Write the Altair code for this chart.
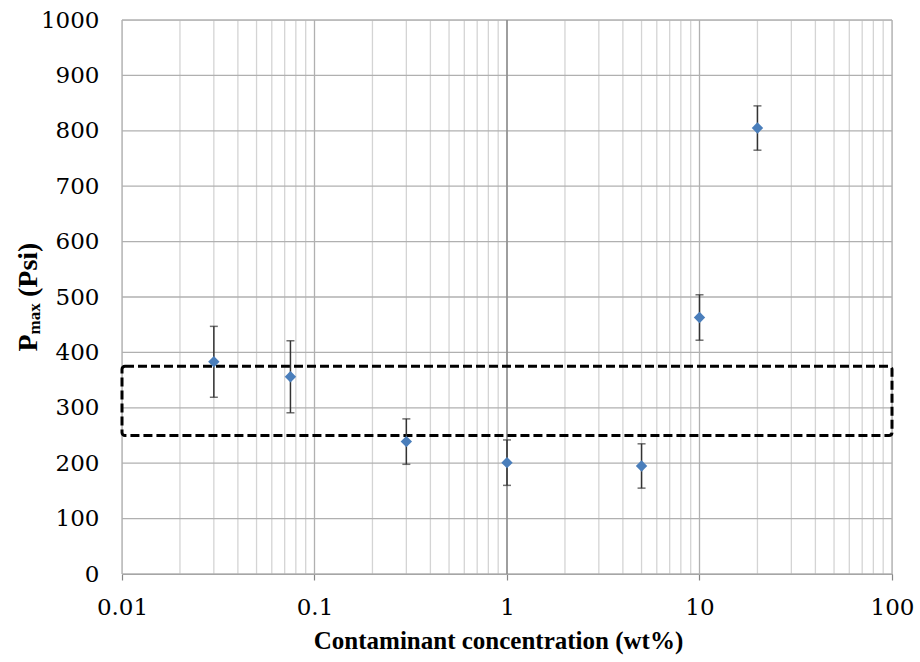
import altair as alt
import pandas as pd

# --- data ---
conc = [0.03, 0.075, 0.3, 1, 5, 10, 20]
pmax = [383, 356, 239, 201, 195, 463, 805]
err = [64, 65, 41, 41, 40, 41, 40]

box_x = [0.01, 100]
box_y = [250, 375]

major_x = [0.01, 0.1, 1, 10, 100]
minor_x = [m * d for d in [0.01, 0.1, 1, 10] for m in range(2, 10)]
y_ticks = list(range(0, 1001, 100))

SERIF = "Liberation Serif"
LABEL_FONT = "DejaVu Serif"

df = pd.DataFrame({
    "conc": conc,
    "pmax": pmax,
    "lo": [p - e for p, e in zip(pmax, err)],
    "hi": [p + e for p, e in zip(pmax, err)],
})
box = pd.DataFrame({"x0": [box_x[0]], "x1": [box_x[1]], "y0": [box_y[0]], "y1": [box_y[1]]})

xscale = alt.Scale(type="log", domain=[0.01, 100], nice=False)
yscale = alt.Scale(domain=[0, 1000], nice=False)

x_axis = alt.Axis(
    values=major_x, format="~g", grid=False,
    domainColor="#868686", domainWidth=1.2,
    tickColor="#868686", tickSize=6, tickWidth=1.2,
    labelFont=LABEL_FONT, labelFontSize=23,
    labelColor="black", labelPadding=16, labelFlush=False,
    title="Contaminant concentration (wt%)",
    titleFont=SERIF, titleFontSize=25, titleFontWeight="bold", titleColor="black",
    titleBaseline="alphabetic", titleY=74, titleX=376,
)
y_axis = alt.Axis(
    values=y_ticks, format="d", grid=False, domain=False, ticks=False, tickSize=0,
    labelFont=LABEL_FONT, labelFontSize=23,
    labelColor="black", labelPadding=23,
    title=None,
)

minor = alt.Chart(pd.DataFrame({"gx": minor_x})).mark_rule(
    color="#d4d4d4", strokeWidth=1.3
).encode(x=alt.X("gx:Q", scale=xscale, axis=x_axis))

major = alt.Chart(pd.DataFrame({"gx": major_x})).mark_rule(
    color="#b0b0b0", strokeWidth=1.3
).encode(x=alt.X("gx:Q", scale=xscale, axis=x_axis))

hgrid = alt.Chart(pd.DataFrame({"gy": y_ticks})).mark_rule(
    color="#b0b0b0", strokeWidth=1.3
).encode(y=alt.Y("gy:Q", scale=yscale, axis=y_axis))

one_line = alt.Chart(pd.DataFrame({"gx": [1]})).mark_rule(
    color="#868686", strokeWidth=1.3
).encode(x=alt.X("gx:Q", scale=xscale, axis=x_axis))

rect = alt.Chart(box).mark_rect(
    fillOpacity=0, stroke="black", strokeWidth=3, strokeDash=[9, 4], cornerRadius=3
).encode(
    x=alt.X("x0:Q", scale=xscale, axis=x_axis), x2="x1:Q",
    y=alt.Y("y0:Q", scale=yscale, axis=y_axis), y2="y1:Q",
)

bars = alt.Chart(df).mark_errorbar(
    ticks={"size": 8, "color": "#333333", "thickness": 1.5},
    rule={"color": "#333333", "strokeWidth": 1.5},
).encode(
    x=alt.X("conc:Q", scale=xscale, axis=x_axis),
    y=alt.Y("lo:Q", scale=yscale, axis=y_axis),
    y2="hi:Q",
)

points = alt.Chart(df).mark_point(
    shape="diamond", filled=True, size=130, color="#4a7ebb", opacity=1
).encode(
    x=alt.X("conc:Q", scale=xscale, axis=x_axis),
    y=alt.Y("pmax:Q", scale=yscale, axis=y_axis),
)

# y-axis title with subscript, drawn as text pieces
title_base = alt.Chart(pd.DataFrame({"a": [0]}))
tP = title_base.mark_text(
    text="P", angle=270, align="left", baseline="alphabetic",
    font=SERIF, fontSize=28, fontWeight="bold", color="black"
).encode(x=alt.value(-85), y=alt.value(331.5))
tmax = title_base.mark_text(
    text="max", angle=270, align="left", baseline="alphabetic",
    font=SERIF, fontSize=17, fontWeight="bold", color="black"
).encode(x=alt.value(-82), y=alt.value(314.4))
tPsi = title_base.mark_text(
    text="(Psi)", angle=270, align="left", baseline="alphabetic",
    font=SERIF, fontSize=28, fontWeight="bold", color="black"
).encode(x=alt.value(-85), y=alt.value(277))

chart = alt.layer(
    minor, major, hgrid, one_line, rect, bars, points, tP, tmax, tPsi
).properties(
    width=770, height=554,
    autosize=alt.AutoSizeParams(type="none"),
    padding={"left": 122, "top": 20, "right": 28, "bottom": 88},
).configure_view(stroke=None).configure(background="white")

chart.save("out.html", embed_options={"renderer": "svg", "actions": False})
